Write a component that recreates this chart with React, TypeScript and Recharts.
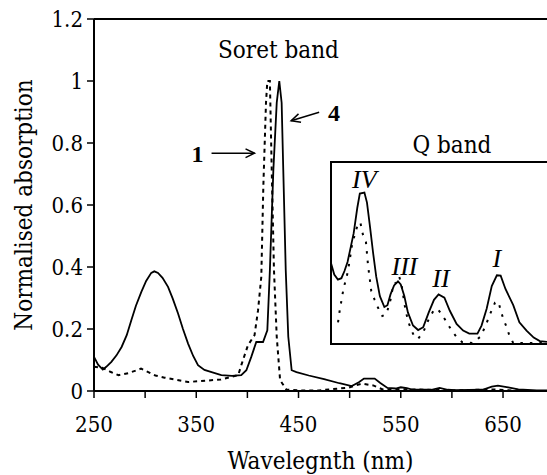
import React from "react";
import { Line, LineChart, ReferenceDot, ReferenceLine, XAxis, YAxis } from "recharts";

const font = "DejaVu Serif Condensed, DejaVu Serif, serif";
const fontAlt = "Liberation Serif, serif";

// main spectrum, sample 4 (solid)
const solidWl = [250, 254, 258.6, 262, 267, 272, 277, 282, 286.5, 291, 296.3, 301, 306, 309, 312.6, 317, 322.4, 327, 332.2, 337, 342, 347, 351.7, 358, 365, 374.5, 385, 394, 399, 403.8, 408.7, 415.3, 419.5, 422, 425.4, 428.7, 431.2, 433.5, 435.1, 437.5, 440, 443.3, 448, 460, 475, 490, 502, 509, 514, 524.5, 530, 537, 545, 550, 556, 562, 580, 588, 596, 603, 630, 639, 645, 655, 665, 683, 693];
const solidAbs = [0.11, 0.085, 0.069, 0.078, 0.094, 0.115, 0.142, 0.18, 0.228, 0.275, 0.32, 0.355, 0.381, 0.386, 0.381, 0.365, 0.336, 0.298, 0.25, 0.2, 0.153, 0.113, 0.083, 0.068, 0.061, 0.051, 0.049, 0.051, 0.067, 0.11, 0.158, 0.158, 0.196, 0.39, 0.713, 0.93, 1.0, 0.93, 0.713, 0.39, 0.175, 0.067, 0.061, 0.05, 0.038, 0.025, 0.016, 0.028, 0.04, 0.04, 0.026, 0.01, 0.008, 0.012, 0.009, 0.004, 0.004, 0.01, 0.004, 0.003, 0.004, 0.014, 0.017, 0.012, 0.005, 0.002, 0.002];

// main spectrum, sample 1 (dotted)
const dotWl = [250, 258, 266, 274, 284, 296, 301, 310, 319, 342, 362, 374, 391, 394.7, 400.6, 407, 410.4, 413.6, 415.6, 418.2, 419.5, 422, 423.8, 426, 428.7, 432, 438, 450, 470, 499, 512, 523, 533, 550, 600, 642, 669, 693];
const dotAbs = [0.078, 0.075, 0.062, 0.051, 0.058, 0.072, 0.064, 0.05, 0.043, 0.029, 0.034, 0.037, 0.051, 0.09, 0.148, 0.18, 0.26, 0.368, 0.66, 0.93, 1.0, 1.0, 0.713, 0.39, 0.175, 0.035, 0.005, 0.002, 0.002, 0.011, 0.024, 0.018, 0.004, 0.006, 0.002, 0.005, 0, 0];

// Q band inset (relative scale of the inset box)
const qSolidWl = [482, 485, 488.6, 492, 495, 498, 501, 504, 507.5, 510, 514.5, 517, 520, 523, 526, 529.6, 534, 537, 540, 543.5, 547.3, 550, 553.5, 557, 562, 567, 572, 577.4, 582.5, 587, 592.7, 598, 604.6, 611, 617, 625, 629, 634, 639, 644, 647.7, 652.4, 660, 666, 673, 680, 686, 693];
const qSolidAbs = [0.44, 0.38, 0.352, 0.36, 0.4, 0.45, 0.53, 0.61, 0.75, 0.83, 0.836, 0.78, 0.644, 0.5, 0.37, 0.26, 0.2, 0.21, 0.27, 0.32, 0.343, 0.325, 0.261, 0.17, 0.097, 0.072, 0.088, 0.17, 0.24, 0.27, 0.252, 0.179, 0.106, 0.069, 0.052, 0.052, 0.097, 0.19, 0.316, 0.376, 0.374, 0.3, 0.21, 0.115, 0.069, 0.03, 0.011, 0.006];
const qDotWl = [488.7, 490.3, 494, 498.4, 502.5, 506, 508.2, 510.5, 513.1, 516, 518, 521.2, 524.5, 527.7, 532, 536, 540, 543, 545.6, 548.5, 551, 554, 557, 560.5, 563.6, 567, 572, 577.4, 582, 586, 590, 595, 599.8, 604.7, 610, 620, 627.5, 632.4, 637.3, 642.2, 645.5, 647.7, 650.3, 653.6, 656.2, 660, 693];
const qDotAbs = [0.115, 0.179, 0.3, 0.398, 0.55, 0.62, 0.662, 0.67, 0.6, 0.56, 0.434, 0.288, 0.24, 0.197, 0.15, 0.16, 0.24, 0.33, 0.334, 0.37, 0.316, 0.206, 0.124, 0.07, 0.033, 0.024, 0.06, 0.133, 0.179, 0.19, 0.16, 0.115, 0.069, 0.033, 0.005, 0, 0.033, 0.088, 0.16, 0.224, 0.23, 0.182, 0.133, 0.088, 0.042, 0, 0];

const xTicks = [250, 300, 350, 400, 450, 500, 550, 600, 650];
const xLabelled = [250, 350, 450, 550, 650];
const yTicks = [0, 0.2, 0.4, 0.6, 0.8, 1, 1.2];

const zip = (xs: number[], ys: number[]) => xs.map((x, i) => ({ x, y: ys[i] }));

const solidData = zip(solidWl, solidAbs);
const dotData = zip(dotWl, dotAbs);
const qSolidData = zip(qSolidWl, qSolidAbs);
const qDotData = zip(qDotWl, qDotAbs);

const notes = [
  { x: 430.4, y: 1.1, text: "Soret band", bold: false },
  { x: 600, y: 0.794, text: "Q band", bold: false },
  { x: 351.2, y: 0.763, text: "1", bold: true },
  { x: 484.7, y: 0.898, text: "4", bold: true },
];

const qNotes = [
  { x: 514.4, y: 0.91, text: "IV" },
  { x: 553.7, y: 0.424, text: "III" },
  { x: 589.4, y: 0.361, text: "II" },
  { x: 644, y: 0.472, text: "I" },
];

// arrow heads sit on the point, tail offset in px
const arrows = [
  { x: 407, y: 0.767, dx: -43, dy: 0 },
  { x: 442.8, y: 0.872, dx: 28, dy: -8.5 },
];

function Arrow(p: any, dx: number, dy: number) {
  const { cx, cy } = p;
  const len = Math.hypot(dx, dy);
  const ux = dx / len;
  const uy = dy / len;
  const h = 10;
  const a = 0.45;
  const p1 = [cx + h * (ux * Math.cos(a) - uy * Math.sin(a)), cy + h * (uy * Math.cos(a) + ux * Math.sin(a))];
  const p2 = [cx + h * (ux * Math.cos(-a) - uy * Math.sin(-a)), cy + h * (uy * Math.cos(-a) + ux * Math.sin(-a))];
  return (
    <g stroke="#000" strokeWidth={1.5} fill="none">
      <line x1={cx + dx} y1={cy + dy} x2={cx} y2={cy} />
      <polyline points={`${p1[0]},${p1[1]} ${cx},${cy} ${p2[0]},${p2[1]}`} />
    </g>
  );
}

function XTitle(props: any) {
  const vb = props.viewBox;
  return (
    <text x={vb.x + vb.width / 2} y={vb.y + 78} textAnchor="middle" style={{ fontFamily: font, fontSize: 24 }} fill="#000">
      Wavelegnth (nm)
    </text>
  );
}

function YTitle(props: any) {
  const vb = props.viewBox;
  const cx = vb.x + 24;
  const cy = vb.y + vb.height / 2;
  return (
    <text x={cx} y={cy} transform={`rotate(-90 ${cx} ${cy})`} textAnchor="middle" dominantBaseline="central" style={{ fontFamily: font, fontSize: 24 }} fill="#000">
      Normalised absorption
    </text>
  );
}

export default function App() {
  const tickStyle = { fill: "#000", fontSize: 22, style: { fontFamily: font } };
  return (
    <div style={{ position: "absolute", left: 0, top: 0, width: 547, height: 475, background: "#fff", overflow: "hidden", fontFamily: font }}>
      <LineChart width={547} height={475} margin={{ top: 19, right: 0, bottom: 0, left: 0 }} style={{ fontFamily: font }}>
        <XAxis
          type="number"
          dataKey="x"
          domain={[250, 693]}
          allowDataOverflow
          ticks={xTicks}
          tickFormatter={(v: number) => (xLabelled.includes(v) ? String(v) : "")}
          height={84}
          axisLine={{ stroke: "#000", strokeWidth: 2 }}
          tickLine={{ stroke: "#000", strokeWidth: 1.5 }}
          tickSize={7}
          tickMargin={18}
          tick={tickStyle}
          label={<XTitle />}
        />
        <YAxis
          type="number"
          domain={[0, 1.2]}
          ticks={yTicks}
          width={94}
          axisLine={{ stroke: "#000", strokeWidth: 2 }}
          tickLine={{ stroke: "#000", strokeWidth: 1.5 }}
          tickSize={7}
          tickMargin={4}
          tick={tickStyle}
          label={<YTitle />}
        />
        <ReferenceLine y={1.2} stroke="#000" strokeWidth={2} />
        <Line data={dotData} dataKey="y" type="linear" stroke="#000" strokeWidth={2} strokeDasharray="4 4" dot={false} isAnimationActive={false} />
        <Line data={solidData} dataKey="y" type="linear" stroke="#000" strokeWidth={1.8} dot={false} isAnimationActive={false} />
        {notes.map((n) => (
          <ReferenceDot
            key={n.text}
            x={n.x}
            y={n.y}
            r={0}
            shape={(p: any) => (
              <text x={p.cx} y={p.cy} textAnchor="middle" dominantBaseline="central" style={{ fontFamily: n.bold ? fontAlt : font, fontSize: 24, fontWeight: n.bold ? "bold" : "normal" }} fill="#000">
                {n.text}
              </text>
            )}
          />
        ))}
        {arrows.map((a, i) => (
          <ReferenceDot key={"a" + i} x={a.x} y={a.y} r={0} shape={(p: any) => Arrow(p, a.dx, a.dy)} />
        ))}
      </LineChart>

      <div
        style={{
          position: "absolute",
          left: 330,
          top: 161,
          width: 217,
          height: 180,
          background: "#fff",
          borderTop: "2px solid #000",
          borderLeft: "2px solid #000",
          borderBottom: "2px solid #000",
        }}
      >
        <LineChart width={215} height={180} margin={{ top: 0, right: 0, bottom: 0, left: 0 }}>
          <XAxis type="number" dataKey="x" domain={[482.8, 693]} allowDataOverflow hide />
          <YAxis type="number" domain={[0, 1]} allowDataOverflow hide />
          <Line data={qDotData} dataKey="y" type="linear" stroke="#000" strokeWidth={2} strokeDasharray="2.5 7" dot={false} isAnimationActive={false} />
          <Line data={qSolidData} dataKey="y" type="linear" stroke="#000" strokeWidth={1.8} dot={false} isAnimationActive={false} />
          {qNotes.map((n) => (
            <ReferenceDot
              key={n.text}
              x={n.x}
              y={n.y}
              r={0}
              shape={(p: any) => (
                <text x={p.cx} y={p.cy} textAnchor="middle" dominantBaseline="central" style={{ fontFamily: fontAlt, fontSize: 26, fontStyle: "italic" }} fill="#000">
                  {n.text}
                </text>
              )}
            />
          ))}
        </LineChart>
      </div>
    </div>
  );
}
